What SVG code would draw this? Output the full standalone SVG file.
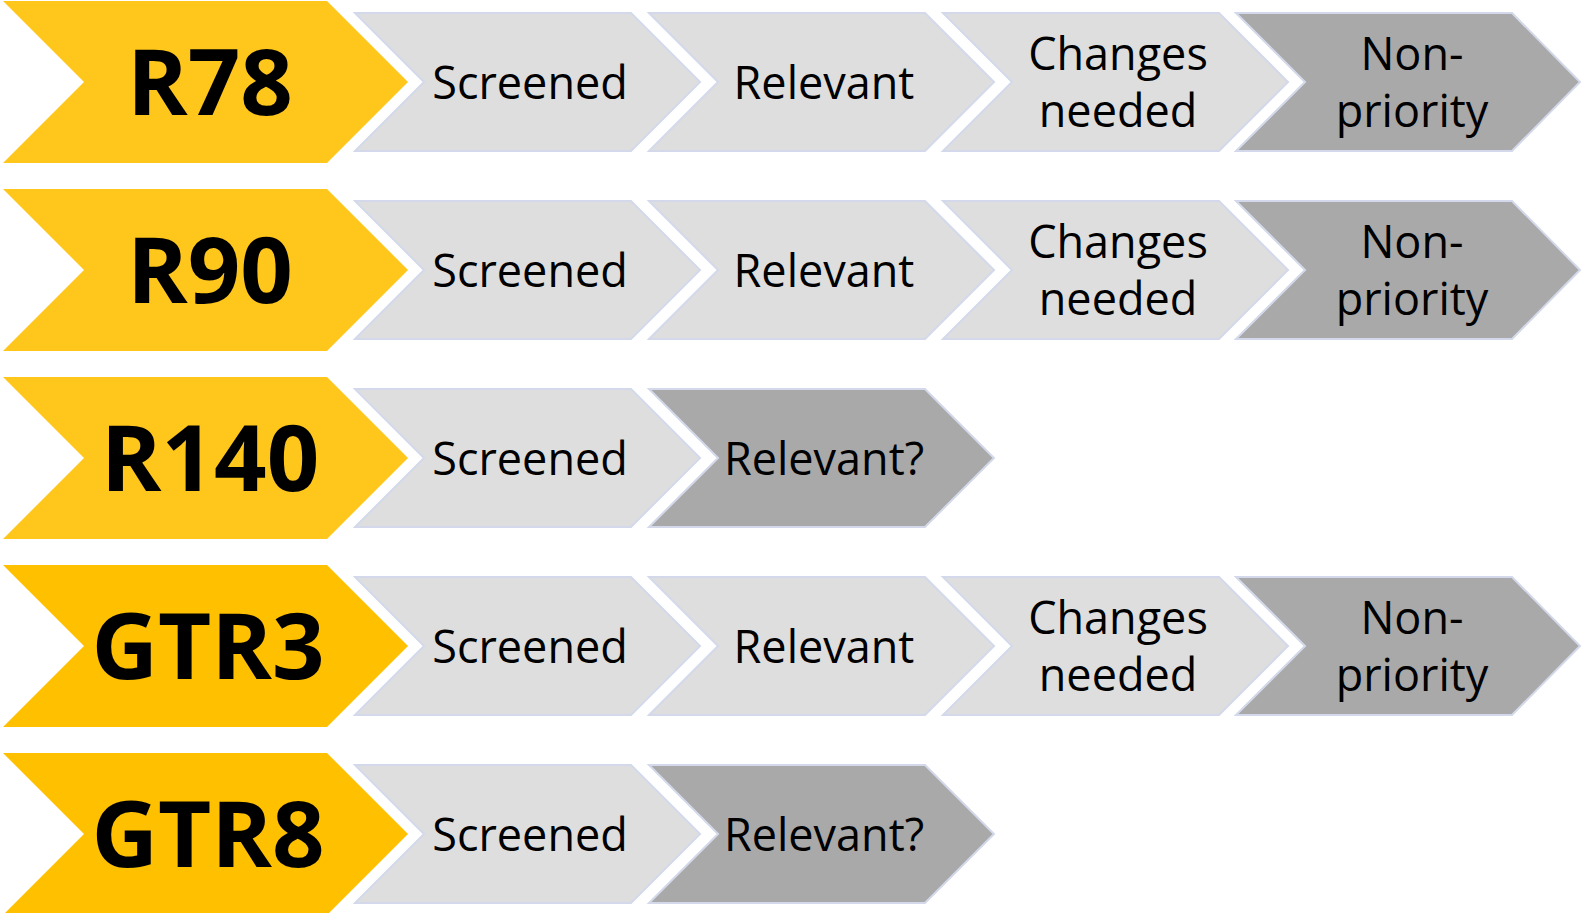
<svg xmlns="http://www.w3.org/2000/svg" width="1582" height="913" viewBox="0 0 1582 913">
<style>
.y1{fill:#FFC61C}
.y2{fill:#FFC000}
.lt{fill:#DEDEDE;stroke:#D3D9EA;stroke-width:2;stroke-linejoin:miter}
.dk{fill:#A9A9A9;stroke:#D3D9EA;stroke-width:2;stroke-linejoin:miter}
.hd{font-family:"Open Sans","Noto Sans","DejaVu Sans",sans-serif;font-weight:700;font-size:92px;fill:#000;text-anchor:middle}
.tx{font-family:"Open Sans","Noto Sans","DejaVu Sans",sans-serif;font-size:45px;fill:#000;text-anchor:middle}
</style>
<rect width="1582" height="913" fill="#FFFFFF"/>
<g id="row-r78">
  <g id="r78"><polygon class="y1" points="3,1 327,1 408,82 327,163 3,163 84,82"/><text class="hd" x="210" y="115">R78</text></g>
  <g id="r78-screened"><polygon class="lt" points="355,13 631,13 700,82 631,151 355,151 424,82"/><text class="tx" x="530" y="99">Screened</text></g>
  <g id="r78-relevant"><polygon class="lt" points="649,13 925,13 994,82 925,151 649,151 718,82"/><text class="tx" x="824" y="99">Relevant</text></g>
  <g id="r78-changes"><polygon class="lt" points="943,13 1219,13 1288,82 1219,151 943,151 1012,82"/><text class="tx" x="1118" y="70">Changes<tspan x="1118" y="127">needed</tspan></text></g>
  <g id="r78-nonpriority"><polygon class="dk" points="1236,13 1512,13 1580,82 1512,151 1236,151 1305,82"/><text class="tx" x="1412" y="70">Non-<tspan x="1412" y="127">priority</tspan></text></g>
</g>
<g id="row-r90">
  <g id="r90"><polygon class="y1" points="3,189 327,189 408,270 327,351 3,351 84,270"/><text class="hd" x="210" y="303">R90</text></g>
  <g id="r90-screened"><polygon class="lt" points="355,201 631,201 700,270 631,339 355,339 424,270"/><text class="tx" x="530" y="287">Screened</text></g>
  <g id="r90-relevant"><polygon class="lt" points="649,201 925,201 994,270 925,339 649,339 718,270"/><text class="tx" x="824" y="287">Relevant</text></g>
  <g id="r90-changes"><polygon class="lt" points="943,201 1219,201 1288,270 1219,339 943,339 1012,270"/><text class="tx" x="1118" y="258">Changes<tspan x="1118" y="315">needed</tspan></text></g>
  <g id="r90-nonpriority"><polygon class="dk" points="1236,201 1512,201 1580,270 1512,339 1236,339 1305,270"/><text class="tx" x="1412" y="258">Non-<tspan x="1412" y="315">priority</tspan></text></g>
</g>
<g id="row-r140">
  <g id="r140"><polygon class="y1" points="3,377 327,377 408,458 327,539 3,539 84,458"/><text class="hd" x="210" y="491">R140</text></g>
  <g id="r140-screened"><polygon class="lt" points="355,389 631,389 700,458 631,527 355,527 424,458"/><text class="tx" x="530" y="475">Screened</text></g>
  <g id="r140-relevant"><polygon class="dk" points="649,389 925,389 994,458 925,527 649,527 718,458"/><text class="tx" x="824" y="475">Relevant?</text></g>
</g>
<g id="row-gtr3">
  <g id="gtr3"><polygon class="y2" points="3,565 327,565 408,646 327,727 3,727 84,646"/><text class="hd" x="208" y="679">GTR3</text></g>
  <g id="gtr3-screened"><polygon class="lt" points="355,577 631,577 700,646 631,715 355,715 424,646"/><text class="tx" x="530" y="663">Screened</text></g>
  <g id="gtr3-relevant"><polygon class="lt" points="649,577 925,577 994,646 925,715 649,715 718,646"/><text class="tx" x="824" y="663">Relevant</text></g>
  <g id="gtr3-changes"><polygon class="lt" points="943,577 1219,577 1288,646 1219,715 943,715 1012,646"/><text class="tx" x="1118" y="634">Changes<tspan x="1118" y="691">needed</tspan></text></g>
  <g id="gtr3-nonpriority"><polygon class="dk" points="1236,577 1512,577 1580,646 1512,715 1236,715 1305,646"/><text class="tx" x="1412" y="634">Non-<tspan x="1412" y="691">priority</tspan></text></g>
</g>
<g id="row-gtr8">
  <g id="gtr8"><polygon class="y2" points="3,753 327,753 408,834 327,915 3,915 84,834"/><text class="hd" x="208" y="867">GTR8</text></g>
  <g id="gtr8-screened"><polygon class="lt" points="355,765 631,765 700,834 631,903 355,903 424,834"/><text class="tx" x="530" y="851">Screened</text></g>
  <g id="gtr8-relevant"><polygon class="dk" points="649,765 925,765 994,834 925,903 649,903 718,834"/><text class="tx" x="824" y="851">Relevant?</text></g>
</g>
<g id="connectors"/>
</svg>
